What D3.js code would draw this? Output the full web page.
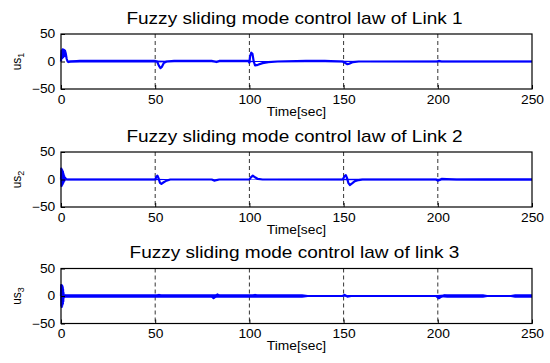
<!DOCTYPE html>
<html>
<head>
<meta charset="utf-8">
<script src="https://cdn.jsdelivr.net/npm/d3@7"></script>
<style>
  body { margin: 0; background: #fff; }
  svg { display: block; font-family: "Liberation Sans", Arial, sans-serif; }
</style>
</head>
<body>
<div id="chart"></div>
<script>
// panel titles and axis labels
var titles = ["Fuzzy sliding mode control law of Link 1",
              "Fuzzy sliding mode control law of Link 2",
              "Fuzzy sliding mode control law of link 3"];
var subs = ["1", "2", "3"];
var xTicks = [0, 50, 100, 150, 200, 250];
var yTicks = [-50, 0, 50];
var gridAt = [50, 100, 150, 200];

// control law u(t): [time, value]
var link1 = [[0,0],[0.3,20],[0.6,6],[0.9,22],[1.2,8],[1.5,21],[1.8,10],[2.1,20],[2.5,15],[3,5],[3.5,0],
  [4,-1],[5,0],[10,1],[20,1],[30,1],[40,1],[50,1],[51,0],[52,-8],[52.8,-12],[53.5,-10],[54.5,-3],[56,0],
  [60,1],[70,1],[80,1],[81.5,0],[82.5,-1],[84,1],[90,1],[99.5,1],[100,-2],[100.4,10],[101,16],[101.6,14],
  [102.3,0],[103,-7],[104.5,-6],[107,-3],[110,-1],[115,0],[130,1],[140,1],[149.5,0],[150.5,-2],[152,-5],
  [153,-4],[155,-1],[158,0],[180,0],[199.5,0],[200.5,1],[202,0],[250,0]];

var link2 = [[0,0],[0.15,20],[0.3,-12],[0.45,18],[0.6,-10],[0.75,16],[0.9,-8],[1.05,14],[1.2,-6],
  [1.35,10],[1.5,-4],[1.7,6],[1.9,-2],[2.2,3],[2.6,1],[3,0],[50,0],[50.6,5],[51.2,7],[51.8,2],[52.5,-6],
  [53.3,-8],[54.5,-5],[56,-2],[58,0],[80,0],[81.5,-2],[82.5,-1],[84,0],[100,0],[100.8,4],[101.8,7],
  [103,4],[104.5,1],[107,0],[149.5,0],[150.5,6],[151.2,8],[151.8,3],[152.5,-6],[153.3,-10],[154.5,-7],
  [156,-3],[158,-1],[160,0],[199,0],[200,-2],[201,-1],[202,1],[210,0],[250,0]];

var link3 = [[0,0],[0.1,20],[0.2,-18],[0.3,20],[0.4,-20],[0.5,19],[0.6,-18],[0.7,18],[0.8,-16],
  [0.9,16],[1,-14],[1.1,12],[1.2,-10],[1.3,6],[1.5,-3],[1.8,1],[2.2,0],[51,0],[52,2],[53,0],[80,0],
  [81,-4],[82,-1],[83,3],[84,0],[102,0],[103,2],[104,0],[149.5,0],[150.5,2],[152,-1],[154,0],[199,0],
  [200.5,-4],[202,-1],[203.5,1],[205,0],[250,0]];

// chatter envelope: [time, half width]
var chat1 = [[4,1.6],[50,1.6],[56,1.2],[100,1.2],[110,0.8],[130,1.3],[150,1.3],[160,0.8],[200,1.5],[250,1.5]];
var chat2 = [[3,1.2],[50,1.2],[60,0.6],[100,0.6],[110,0.8],[160,1.2],[200,1.2],[225,1.8],[250,1.8]];
var chat3 = [[2,3],[128,3],[133,1],[150,1],[153,2],[200,2],[205,3],[224,3],[227,1.3],[238,1.3],[241,3],[250,3]];

var series = [link1, link2, link3];
var chatter = [chat1, chat2, chat3];

var width = 550, height = 363;
var left = 61, right = 532;
var tops = [34, 152, 268.5];
var ph = 55;
var sx = 1.15; // the reference text is stretched sideways

var svg = d3.select("#chart").append("svg")
  .attr("width", width)
  .attr("height", height);

var x = d3.scaleLinear().domain([0, 250]).range([left, right]);

tops.forEach(function(top, i) {
  var y = d3.scaleLinear().domain([-50, 50]).range([top + ph, top]);
  var g = svg.append("g");

  // dashed grid on x only
  g.selectAll(".grid")
    .data(gridAt)
    .join("line")
    .attr("x1", d => x(d)).attr("x2", d => x(d))
    .attr("y1", top).attr("y2", top + ph)
    .attr("stroke", "#000")
    .attr("stroke-width", 0.8)
    .attr("stroke-dasharray", "4,3");

  // chatter band
  g.append("path")
    .datum(chatter[i])
    .attr("fill", "#0000ff")
    .attr("d", d3.area().x(d => x(d[0])).y0(d => y(-d[1])).y1(d => y(d[1])));

  g.append("path")
    .datum(series[i])
    .attr("fill", "none")
    .attr("stroke", "#0000ff")
    .attr("stroke-width", 2.2)
    .attr("stroke-linejoin", "round")
    .attr("d", d3.line().x(d => x(d[0])).y(d => y(d[1])));

  // axes
  g.append("g")
    .attr("transform", `translate(0,${top + ph})`)
    .call(d3.axisBottom(x).tickValues(xTicks).tickSize(-4).tickPadding(6).tickSizeOuter(0))
    .call(a => a.select(".domain").remove())
    .call(a => a.selectAll("text").attr("font-size", 12).attr("font-family", null)
      .attr("fill", "#000").attr("transform", `scale(${sx},1)`));

  g.append("g")
    .attr("transform", `translate(${left},0)`)
    .call(d3.axisLeft(y).tickValues(yTicks).tickSize(-4).tickPadding(5).tickSizeOuter(0))
    .call(a => a.select(".domain").remove())
    .call(a => a.selectAll("text").attr("font-size", 12).attr("font-family", null)
      .attr("fill", "#000").attr("transform", `scale(${sx},1)`));

  g.append("rect")
    .attr("x", left).attr("y", top)
    .attr("width", right - left).attr("height", ph)
    .attr("fill", "none")
    .attr("stroke", "#000")
    .attr("stroke-width", 1.2);

  // title
  g.append("text")
    .attr("transform", `translate(${(left + right) / 2 - 2},${top - 10.5}) scale(1.12,1)`)
    .attr("text-anchor", "middle")
    .attr("font-size", 17)
    .text(titles[i]);

  g.append("text")
    .attr("transform", `translate(${(left + right) / 2},${top + ph + 26.5}) scale(${sx},1)`)
    .attr("text-anchor", "middle")
    .attr("font-size", 12)
    .text("Time[sec]");

  var yl = g.append("text")
    .attr("transform", `translate(21,${top + ph / 2}) rotate(-90)`)
    .attr("text-anchor", "middle")
    .attr("font-size", 12);
  yl.append("tspan").text("us");
  yl.append("tspan").attr("dy", 3).attr("font-size", 9).text(subs[i]);
});
</script>
</body>
</html>
